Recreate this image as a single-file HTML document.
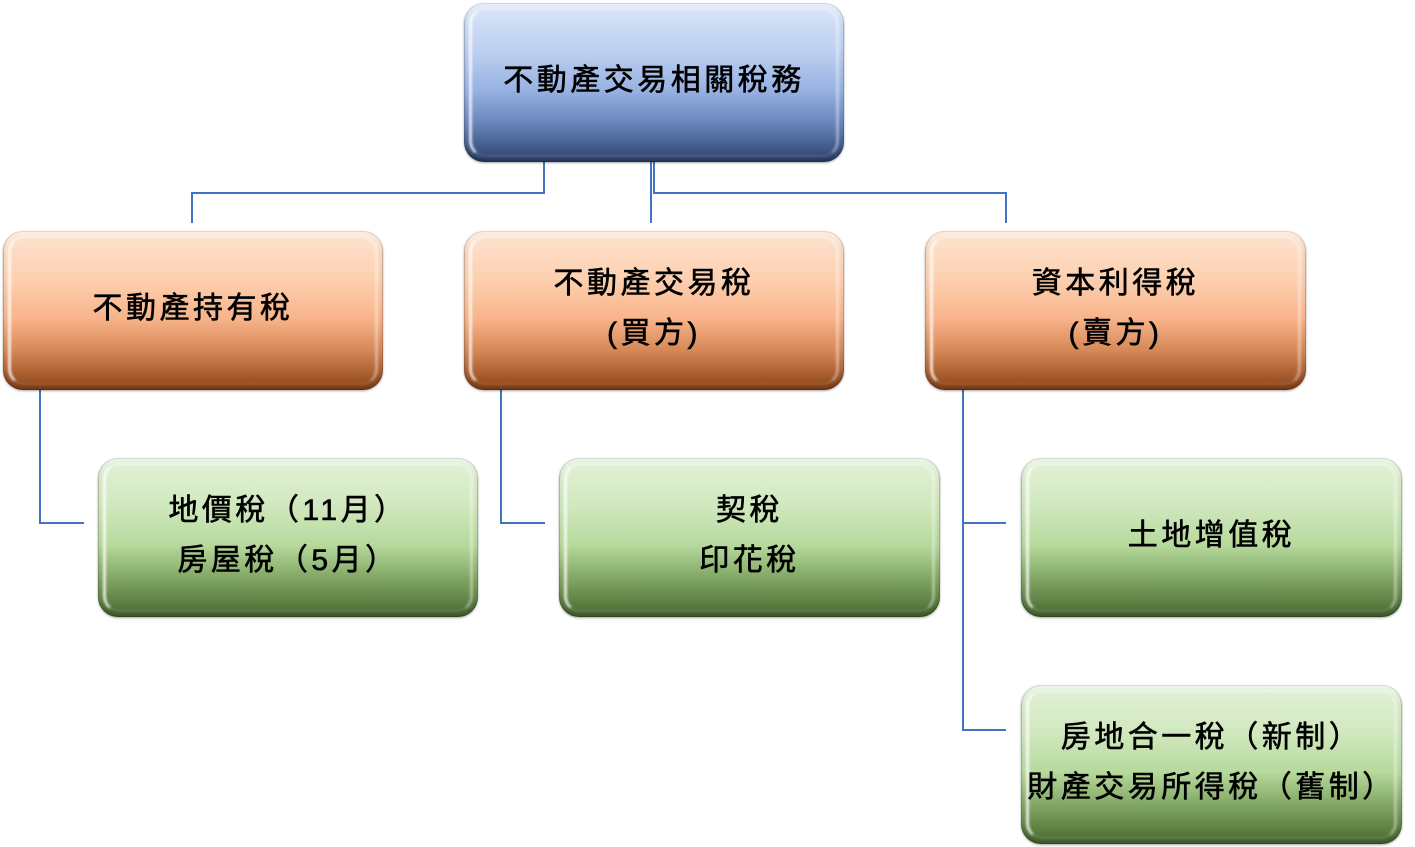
<!DOCTYPE html>
<html>
<head>
<meta charset="utf-8">
<style>
html,body{margin:0;padding:0;background:#fff;}
body{width:1415px;height:847px;position:relative;overflow:hidden;
font-family:"Liberation Sans","Noto Sans CJK TC","Noto Sans CJK SC",sans-serif;}
.box{position:absolute;border-radius:20px;box-sizing:border-box;
display:flex;align-items:center;justify-content:center;text-align:center;
font-size:30px;letter-spacing:3.5px;line-height:50px;color:#000;white-space:nowrap;
-webkit-text-stroke:0.6px #000;
box-shadow:0 1px 2px rgba(0,0,0,.35), inset 0 0 0 1px rgba(0,0,0,.18);}
.box::before{content:"";position:absolute;left:5px;top:5px;right:5px;bottom:5px;border-radius:16px;
border-left:3px solid rgba(255,255,255,.8);border-top:2px solid rgba(255,255,255,.45);
border-right:3px solid rgba(255,255,255,.4);border-bottom:2px solid rgba(255,255,255,.15);
filter:blur(1px);}
.box::after{content:"";position:absolute;left:0;top:0;right:0;bottom:0;border-radius:20px;
box-shadow:inset 0 -6px 8px -3px rgba(0,0,0,.25), inset 0 6px 6px -3px rgba(255,255,255,.5);}
.box span{position:relative;z-index:2;margin-top:-4px;}
.blue{background:linear-gradient(to bottom,#dce7f8 0%,#bdd0f1 30%,#97b1e2 55%,#6a86bd 75%,#2b416c 100%);}
.orange{background:linear-gradient(to bottom,#fde4d1 0%,#fdd0b0 30%,#f8b48a 55%,#d68857 75%,#8c4216 100%);}
.green{background:linear-gradient(to bottom,#e3f1d9 0%,#d0e8be 30%,#b6d99c 55%,#83a865 75%,#48682f 100%);}
svg{position:absolute;left:0;top:0;}
</style>
</head>
<body>
<svg width="1415" height="847">
<g fill="none" stroke="#4472c4" stroke-width="2">
<polyline points="544,162 544,193 192,193 192,223"/>
<polyline points="651,162 651,223"/>
<polyline points="654,162 654,193 1006,193 1006,223"/>
<polyline points="40,390 40,523 84,523"/>
<polyline points="501,390 501,523 545,523"/>
<polyline points="963,390 963,730 1006,730"/>
<polyline points="963,523 1006,523"/>
</g>
</svg>

<div class="box blue" style="left:464px;top:3px;width:380px;height:159px;"><span>不動產交易相關稅務</span></div>

<div class="box orange" style="left:3px;top:231px;width:380px;height:159px;"><span>不動產持有稅</span></div>
<div class="box orange" style="left:464px;top:231px;width:380px;height:159px;"><span>不動產交易稅<br>(買方)</span></div>
<div class="box orange" style="left:925px;top:231px;width:381px;height:159px;"><span>資本利得稅<br>(賣方)</span></div>

<div class="box green" style="left:98px;top:458px;width:380px;height:159px;"><span>地價稅（11月）<br>房屋稅（5月）</span></div>
<div class="box green" style="left:559px;top:458px;width:381px;height:159px;"><span>契稅<br>印花稅</span></div>
<div class="box green" style="left:1021px;top:458px;width:381px;height:159px;"><span>土地增值稅</span></div>
<div class="box green" style="left:1021px;top:685px;width:381px;height:159px;"><span>房地合一稅（新制）<br>財產交易所得稅（舊制）</span></div>
</body>
</html>
